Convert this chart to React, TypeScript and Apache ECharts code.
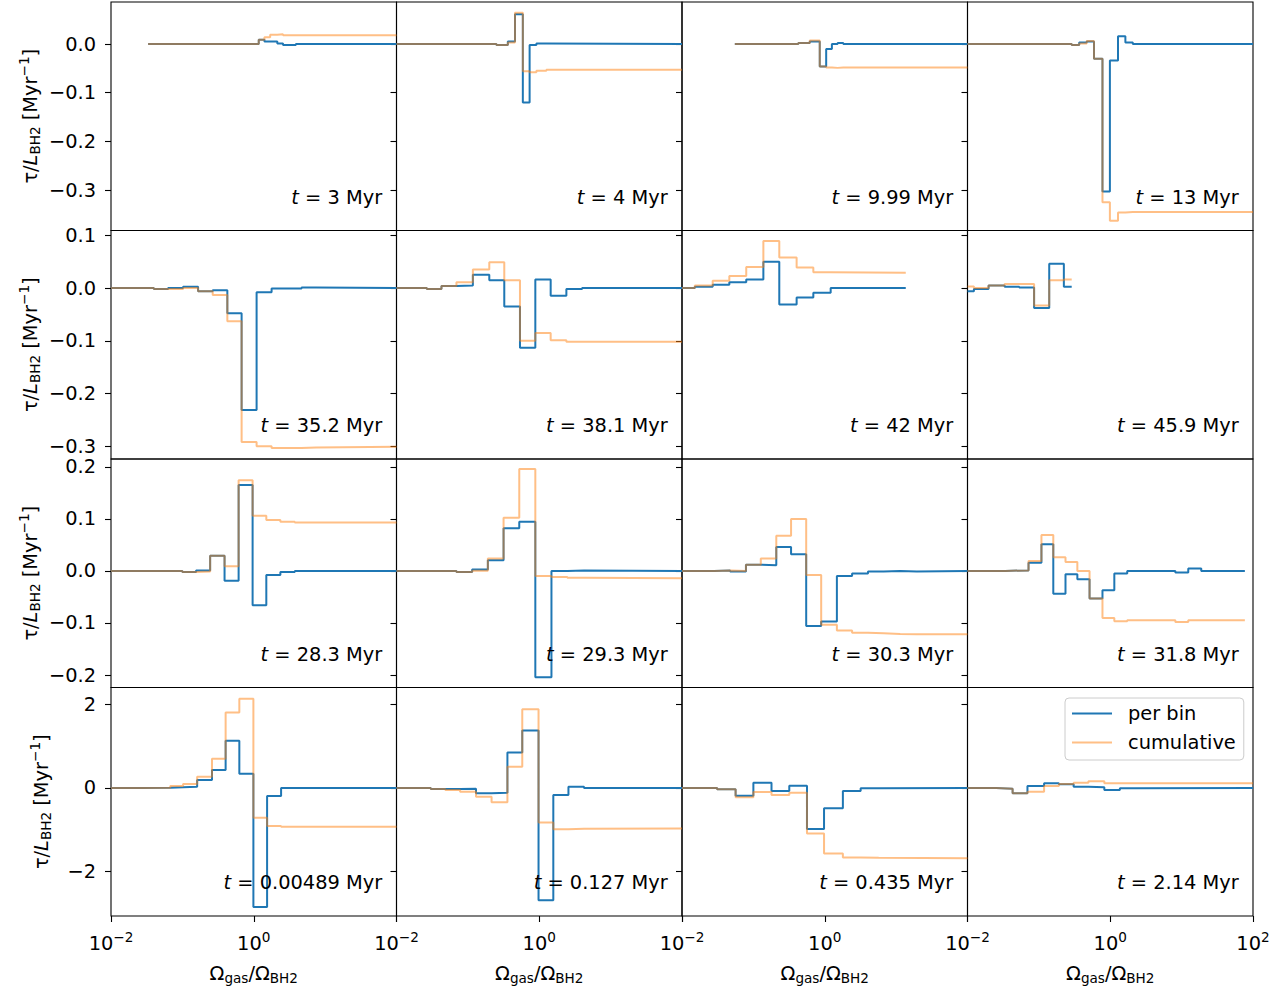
import React, { useEffect, useRef } from 'react';
import * as echarts from 'echarts';

// ---------------- data (x = log10 of Ω_gas/Ω_BH2 bin edges) ----------------
const TIMES = ['3', '4', '9.99', '13', '35.2', '38.1', '42', '45.9', '28.3', '29.3', '30.3', '31.8', '0.00489', '0.127', '0.435', '2.14'];

const EDGES_T3 = [-1.48, 0.07, 0.15, 0.23, 0.33, 0.41, 0.51, 0.59, 2.0];
const PERBIN_T3 = [0, 0.009, 0.005, 0.005, 0.001, -0.002, -0.002, 0];
const CUMUL_T3 = [0, 0.009, 0.014, 0.019, 0.02, 0.018, 0.018, 0.018];

const EDGES_T4 = [-2, -0.6, -0.44, -0.34, -0.23, -0.135, -0.04, 0.1, 2];
const PERBIN_T4 = [0, -0.002, 0.005, 0.061, -0.12, -0.002, 0.001, 0];
const CUMUL_T4 = [0, -0.002, 0.003, 0.064, -0.056, -0.058, -0.055, -0.053];

const EDGES_T999 = [-1.26, -0.37, -0.21, -0.07, 0.02, 0.1, 0.18, 0.26, 2.0];
const PERBIN_T999 = [0, 0.002, 0.005, -0.046, -0.01, 0.0, 0.002, 0];
const CUMUL_T999 = [0, 0.002, 0.007, -0.046, -0.048, -0.049, -0.048, -0.048];

const EDGES_T13 = [-2, -0.54, -0.435, -0.33, -0.228, -0.109, -0.005, 0.109, 0.212, 0.316, 2];
const PERBIN_T13 = [0, -0.002, 0.003, 0.005, -0.03, -0.303, -0.034, 0.016, 0.003, 0];
const CUMUL_T13 = [0, -0.002, 0.001, 0.006, -0.03, -0.325, -0.363, -0.346, -0.345, -0.345];

const EDGES_T352 = [-2, -1.4, -1.2, -0.99, -0.78, -0.575, -0.37, -0.17, 0.04, 0.25, 0.46, 0.67, 0.875, 2];
const PERBIN_T352 = [0, -0.002, 0, 0.0025, -0.006, -0.004, -0.048, -0.231, -0.008, -0.001, -0.001, 0.001, 0];
const CUMUL_T352 = [0, -0.002, -0.002, 0, -0.006, -0.013, -0.063, -0.292, -0.3, -0.303, -0.303, -0.302, -0.301];

const EDGES_T381 = [-2, -1.575, -1.37, -1.16, -0.93, -0.7, -0.49, -0.27, -0.055, 0.16, 0.38, 0.6, 2];
const PERBIN_T381 = [0, -0.002, 0.004, 0.005, 0.025, 0.0145, -0.035, -0.113, 0.016, -0.0145, -0.002, 0];
const CUMUL_T381 = [0, -0.002, 0.004, 0.011, 0.035, 0.049, 0.0145, -0.1, -0.085, -0.099, -0.102, -0.102];

const EDGES_T42 = [-2, -1.82, -1.57, -1.337, -1.1, -0.86, -0.637, -0.394, -0.16, 0.083, 1.135];
const PERBIN_T42 = [0, 0.0025, 0.006, 0.011, 0.016, 0.05, -0.031, -0.018, -0.009, 0];
const CUMUL_T42 = [0, 0.005, 0.014, 0.023, 0.04, 0.089, 0.058, 0.039, 0.03, 0.029];

const EDGES_T459 = [-2, -1.91, -1.705, -1.48, -1.275, -1.067, -0.855, -0.65, -0.54];
const PERBIN_T459 = [-0.006, -0.002, 0.005, 0.0025, 0.001, -0.038, 0.046, 0.0025];
const CUMUL_T459 = [0.003, 0.0, 0.005, 0.0075, 0.0075, -0.033, 0.0145, 0.016];

const EDGES_T283 = [-2, -1.0, -0.808, -0.611, -0.409, -0.212, -0.016, 0.176, 0.373, 0.575, 0.772, 2];
const PERBIN_T283 = [0, -0.002, 0.001, 0.029, -0.019, 0.165, -0.066, -0.008, -0.002, 0.0, 0];
const CUMUL_T283 = [0, -0.002, -0.001, 0.029, 0.009, 0.174, 0.106, 0.098, 0.0945, 0.093, 0.093];

const EDGES_T293 = [-2, -1.16, -0.94, -0.72, -0.5, -0.28, -0.055, 0.171, 0.394, 0.627, 2];
const PERBIN_T293 = [0, -0.002, 0.0025, 0.0205, 0.082, 0.0945, -0.2045, 0.0, 0.001, 0];
const CUMUL_T293 = [0, -0.002, 0.0005, 0.024, 0.102, 0.196, -0.0096, -0.0116, -0.013, -0.014];

const EDGES_T303 = [-2, -1.55, -1.326, -1.104, -0.896, -0.679, -0.472, -0.26, -0.05, 0.17, 0.383, 0.606, 0.824, 1.057, 1.29, 2];
const PERBIN_T303 = [0, 0.001, -0.001, 0.012, 0.011, 0.046, 0.032, -0.106, -0.097, -0.0096, -0.005, -0.001, 0, -0.001, 0];
const CUMUL_T303 = [0, 0.001, 0.0, 0.012, 0.024, 0.0675, 0.0997, -0.0077, -0.1035, -0.1145, -0.119, -0.12, -0.121, -0.1215, -0.1215];

const EDGES_T318 = [-2, -1.47, -1.145, -0.964, -0.798, -0.627, -0.461, -0.29, -0.109, 0.057, 0.238, 0.912, 1.093, 1.275, 1.886];
const PERBIN_T318 = [0, 0.001, 0.0155, 0.051, -0.044, -0.0064, -0.016, -0.053, -0.037, -0.005, 0, -0.003, 0.0045, 0];
const CUMUL_T318 = [0, 0.001, 0.019, 0.069, 0.026, 0.017, 0.0, -0.053, -0.0907, -0.0965, -0.095, -0.098, -0.095, -0.095];

const EDGES_T000489 = [-2, -1.6, -1.17, -0.99, -0.793, -0.585, -0.394, -0.202, -0.005, 0.187, 0.383, 2];
const PERBIN_T000489 = [0, 0.005, 0.016, 0.032, 0.19, 0.43, 1.13, 0.34, -2.85, -0.19, 0];
const CUMUL_T000489 = [0, 0.005, 0.048, 0.096, 0.27, 0.7, 1.81, 2.14, -0.71, -0.91, -0.93];

const EDGES_T0127 = [-2, -1.52, -1.316, -1.109, -0.886, -0.668, -0.446, -0.238, -0.01, 0.197, 0.409, 0.627, 2];
const PERBIN_T0127 = [0, -0.024, -0.024, -0.016, -0.128, -0.112, 0.85, 1.376, -2.69, -0.168, 0.032, 0];
const CUMUL_T0127 = [0, -0.024, -0.048, -0.088, -0.208, -0.344, 0.51, 1.888, -0.824, -0.99, -0.976, -0.968];

const EDGES_T0435 = [-2, -1.508, -1.249, -1.0, -0.746, -0.497, -0.249, -0.01, 0.254, 0.503, 0.756, 2];
const PERBIN_T0435 = [0, -0.032, -0.184, 0.128, -0.072, 0.056, -0.984, -0.488, -0.072, -0.008, 0];
const CUMUL_T0435 = [0, -0.032, -0.224, -0.096, -0.168, -0.112, -1.088, -1.568, -1.664, -1.672, -1.68];

const EDGES_T214 = [-2, -1.6, -1.368, -1.16, -0.927, -0.72, -0.513, -0.306, -0.083, 0.135, 0.342, 2];
const PERBIN_T214 = [0, -0.016, -0.128, 0.048, 0.112, 0.088, 0.032, 0.016, -0.048, -0.008, 0];
const CUMUL_T214 = [0, -0.016, -0.128, -0.088, 0.048, 0.096, 0.128, 0.16, 0.112, 0.112, 0.112];

const PANEL_EDGES = [EDGES_T3, EDGES_T4, EDGES_T999, EDGES_T13, EDGES_T352, EDGES_T381, EDGES_T42, EDGES_T459,
  EDGES_T283, EDGES_T293, EDGES_T303, EDGES_T318, EDGES_T000489, EDGES_T0127, EDGES_T0435, EDGES_T214];
const PANEL_PERBIN = [PERBIN_T3, PERBIN_T4, PERBIN_T999, PERBIN_T13, PERBIN_T352, PERBIN_T381, PERBIN_T42, PERBIN_T459,
  PERBIN_T283, PERBIN_T293, PERBIN_T303, PERBIN_T318, PERBIN_T000489, PERBIN_T0127, PERBIN_T0435, PERBIN_T214];
const PANEL_CUMUL = [CUMUL_T3, CUMUL_T4, CUMUL_T999, CUMUL_T13, CUMUL_T352, CUMUL_T381, CUMUL_T42, CUMUL_T459,
  CUMUL_T283, CUMUL_T293, CUMUL_T303, CUMUL_T318, CUMUL_T000489, CUMUL_T0127, CUMUL_T0435, CUMUL_T214];

// axis limits / ticks per row
const ROW_MIN = [-0.383, -0.324, -0.224, -3.066];
const ROW_MAX = [0.0863, 0.109, 0.215, 2.407];
const ROW_TICKS = [
  [-0.3, -0.2, -0.1, 0.0],
  [-0.3, -0.2, -0.1, 0.0, 0.1],
  [-0.2, -0.1, 0.0, 0.1, 0.2],
  [-2, 0, 2],
];
const X_TICKS = [-2, 0, 2];

// ---------------- style / layout ----------------
const FONT = 'DejaVu Sans';
const FS = 19.4;
const FS_SMALL = 13.6;
const BLUE = '#1f77b4';
const ORANGE = '#ff7f0e';
const GRID_LEFT = 111;
const GRID_TOP = 2;
const CELL_W = 285.5;
const CELL_H = 228.5;
const YNAME_X = [30, 30, 30, 41];

const MINUS = '\u2212';

function fmtY(row: number) {
  return (v: number) => {
    const s = row === 3 ? Math.abs(v).toFixed(0) : Math.abs(v).toFixed(1);
    return (v < -1e-9 ? MINUS : '') + s;
  };
}

function fmtX(v: number) {
  return '{b|10}{s|' + (v < 0 ? MINUS : '') + Math.abs(v) + '}';
}

export default function App() {
  const ref = useRef<HTMLDivElement>(null);

  useEffect(() => {
    if (!ref.current) return;
    const chart = echarts.init(ref.current, null, { renderer: 'svg' });

    const grids: any[] = [];
    const xAxes: any[] = [];
    const yAxes: any[] = [];
    const series: any[] = [];
    const graphics: any[] = [];

    for (let i = 0; i < 16; i++) {
      const r = Math.floor(i / 4);
      const c = i % 4;
      const left = GRID_LEFT + c * CELL_W;
      const top = GRID_TOP + r * CELL_H;
      const bottomRow = r === 3;

      grids.push({
        left, top, width: CELL_W, height: CELL_H,
        show: true, borderColor: '#000', borderWidth: 1.1, backgroundColor: 'rgba(0,0,0,0)',
        containLabel: false,
      });

      xAxes.push({
        type: 'value', gridIndex: i, min: -2, max: 2, position: 'bottom',
        axisLine: { show: false, onZero: false }, splitLine: { show: false },
        axisTick: { show: bottomRow, length: 6, inside: false, lineStyle: { color: '#000', width: 1.1 }, customValues: X_TICKS },
        axisLabel: {
          show: bottomRow,
          customValues: c === 3 ? X_TICKS : X_TICKS.slice(0, 2),
          margin: 14,
          formatter: fmtX,
          color: '#000',
          rich: {
            b: { fontSize: FS, fontFamily: FONT, color: '#000' },
            s: { fontSize: FS_SMALL, fontFamily: FONT, color: '#000', padding: [0, 0, 12, 0] },
          },
        },
      });

      yAxes.push({
        type: 'value', gridIndex: i, min: ROW_MIN[r], max: ROW_MAX[r], position: 'left',
        axisLine: { show: false, onZero: false }, splitLine: { show: false },
        axisTick: { show: true, length: 6, inside: false, lineStyle: { color: '#000', width: 1.1 }, customValues: ROW_TICKS[r] },
        axisLabel: {
          show: c === 0, customValues: ROW_TICKS[r], margin: 15,
          formatter: fmtY(r), color: '#000', fontSize: FS, fontFamily: FONT,
        },
      });

      const edges = PANEL_EDGES[i];
      const pb = PANEL_PERBIN[i];
      const cu = PANEL_CUMUL[i];
      const pbData = edges.map((e, k) => [e, pb[Math.min(k, pb.length - 1)]]);
      const cuData = edges.map((e, k) => [e, cu[Math.min(k, cu.length - 1)]]);

      series.push({
        type: 'line', name: 'per bin', xAxisIndex: i, yAxisIndex: i, data: pbData,
        step: 'end', symbol: 'none', silent: true, z: 3,
        lineStyle: { color: BLUE, width: 2 }, itemStyle: { color: BLUE },
      });
      series.push({
        type: 'line', name: 'cumulative', xAxisIndex: i, yAxisIndex: i, data: cuData,
        step: 'end', symbol: 'none', silent: true, z: 4,
        lineStyle: { color: ORANGE, width: 2, opacity: 0.5 }, itemStyle: { color: ORANGE, opacity: 0.5 },
      });

      graphics.push({
        type: 'text', x: left + 0.95 * CELL_W, y: top + 0.9 * CELL_H - 10.5, z: 50,
        style: {
          text: '{it|t} = ' + TIMES[i] + ' Myr',
          fontSize: FS, fontFamily: FONT, fill: '#000',
          align: 'right', verticalAlign: 'middle',
          rich: { it: { fontStyle: 'italic', fontSize: FS, fontFamily: FONT, fill: '#000' } },
        },
      });
    }

    for (let r = 0; r < 4; r++) {
      graphics.push({
        type: 'text', x: YNAME_X[r], y: GRID_TOP + r * CELL_H + CELL_H / 2, rotation: Math.PI / 2, z: 50,
        style: {
          text: '\u03c4/{it|L}{sub|BH2} [Myr{sup|' + MINUS + '1}]',
          fontSize: FS, fontFamily: FONT, fill: '#000', align: 'center', verticalAlign: 'middle',
          rich: {
            it: { fontStyle: 'italic', fontSize: FS, fontFamily: FONT, fill: '#000' },
            sub: { fontSize: FS_SMALL, fontFamily: FONT, fill: '#000', padding: [10, 0, 0, 0] },
            sup: { fontSize: FS_SMALL, fontFamily: FONT, fill: '#000', padding: [0, 0, 12, 0] },
          },
        },
      });
    }
    for (let c = 0; c < 4; c++) {
      graphics.push({
        type: 'text', x: GRID_LEFT + c * CELL_W + CELL_W / 2, y: 973, z: 50,
        style: {
          text: '\u03a9{sub|gas}/\u03a9{sub|BH2}',
          fontSize: FS, fontFamily: FONT, fill: '#000', align: 'center', verticalAlign: 'middle',
          rich: {
            sub: { fontSize: FS_SMALL, fontFamily: FONT, fill: '#000', padding: [10, 0, 0, 0] },
          },
        },
      });
    }

    chart.setOption({
      animation: false,
      backgroundColor: '#fff',
      grid: grids,
      xAxis: xAxes,
      yAxis: yAxes,
      series,
      graphic: graphics,
      legend: {
        data: [
          { name: 'per bin', itemStyle: { color: BLUE } },
          { name: 'cumulative', itemStyle: { color: ORANGE, opacity: 0.5 } },
        ],
        orient: 'vertical', left: 1065, top: 698,
        icon: 'rect', itemWidth: 40, itemHeight: 2, itemGap: 8,
        padding: [5, 8, 7, 7],
        backgroundColor: 'rgba(255,255,255,0.8)', borderColor: '#cccccc', borderWidth: 1, borderRadius: 4,
        selectedMode: false,
        textStyle: { fontSize: FS, fontFamily: FONT, color: '#000', lineHeight: 21, padding: [0, 0, 0, 11] },
      },
    });

    return () => chart.dispose();
  }, []);

  return <div ref={ref} style={{ position: 'absolute', left: 0, top: 0, width: 1288, height: 993 }} />;
}
